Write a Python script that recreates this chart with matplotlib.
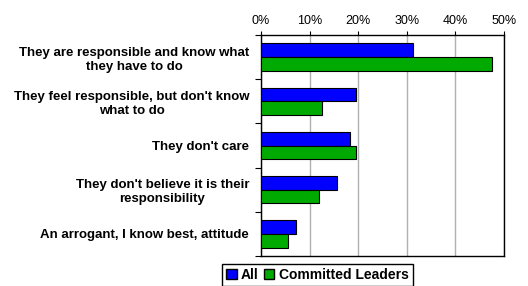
import matplotlib
matplotlib.use("Agg")
import matplotlib.pyplot as plt
from matplotlib.patches import Patch
import numpy as np

categories = [
    "They are responsible and know what\nthey have to do",
    "They feel responsible, but don't know\nwhat to do",
    "They don't care",
    "They don't believe it is their\nresponsibility",
    "An arrogant, I know best, attitude",
]
all_vals = [31.3, 19.5, 18.4, 15.7, 7.2]
leaders_vals = [47.6, 12.5, 19.5, 12.0, 5.5]
series_names = ["All", "Committed Leaders"]
xticks = [0, 10, 20, 30, 40, 50]
xtick_labels = ["0%", "10%", "20%", "30%", "40%", "50%"]

plt.rcParams['font.family'] = ['Liberation Sans', 'DejaVu Sans']

fig = plt.figure(figsize=(5.28, 2.86), dpi=100)
ax = fig.add_axes([261/528, 1-256/286, 243/528, 221/286])

y = np.arange(len(categories))
h = 0.31
ax.barh(y - h/2, all_vals, height=h, color="#0000FF", edgecolor="black", linewidth=0.8, zorder=3)
ax.barh(y + h/2, leaders_vals, height=h, color="#00AA00", edgecolor="black", linewidth=0.8, zorder=3)

ax.set_xlim(0, 50)
ax.set_ylim(len(categories) - 0.5, -0.5)
ax.xaxis.tick_top()
ax.set_xticks(xticks)
ax.set_xticklabels(xtick_labels, fontsize=9)
ax.tick_params(axis='x', direction='out', length=3, width=0.8, pad=3)
ax.grid(axis='x', color='#b0b0b0', linewidth=1, zorder=0)

ax.set_yticks(y)
ax.set_yticklabels(categories, fontsize=9.5, fontweight='bold')
for t in ax.get_yticklabels():
    t.set_multialignment('center')
    t.set_linespacing(1.25)
ax.tick_params(axis='y', which='major', length=0, pad=8.5)
ax.set_yticks(np.arange(-0.5, len(categories), 1.0), minor=True)
ax.tick_params(axis='y', which='minor', length=4, width=0.8, direction='out')

for s in ax.spines.values():
    s.set_color('black')
    s.set_linewidth(1)

handles = [Patch(facecolor="#0000FF", edgecolor="black"), Patch(facecolor="#00AA00", edgecolor="black")]
leg = fig.legend(handles, series_names, loc='upper left', bbox_to_anchor=(222/528, 1-264/286),
                 ncol=2, frameon=True, fancybox=False, edgecolor='black', framealpha=1,
                 prop={'weight': 'bold', 'size': 10}, handlelength=0.75, handleheight=0.75,
                 handletextpad=0.3, columnspacing=0.4, borderpad=0.3, borderaxespad=0)
leg.get_frame().set_linewidth(1)

fig.savefig("out.png", dpi=100)
